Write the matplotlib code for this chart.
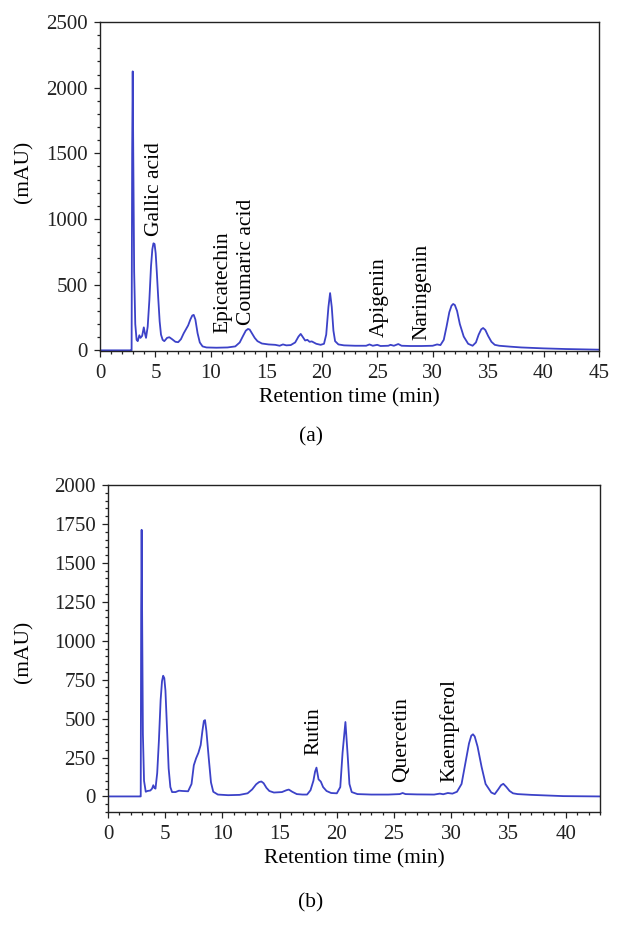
import matplotlib
matplotlib.use("Agg")
import matplotlib.pyplot as plt
from matplotlib.ticker import MultipleLocator

plt.rcParams["font.family"] = ["Liberation Serif", "DejaVu Serif"]

LINE_COLOR = "#3c42c8"

# (a) chromatogram, retention time (min) vs absorbance (mAU)
time_a = [0, 2.80, 2.85, 2.90, 2.95, 3.00, 3.08, 3.18, 3.30, 3.40, 3.55, 3.65, 3.80,
          3.95, 4.05, 4.15, 4.30, 4.45, 4.60, 4.72, 4.82, 4.92, 5.02, 5.12, 5.25,
          5.38, 5.50, 5.65, 5.80, 6.05, 6.25, 6.50, 6.80, 7.05, 7.30, 7.55, 7.75,
          7.95, 8.15, 8.32, 8.45, 8.60, 8.80, 9.00, 9.25, 9.60, 10.5, 11.5, 12.2,
          12.6, 12.9, 13.15, 13.35, 13.5, 13.7, 13.95, 14.2, 14.6, 15.2, 15.8, 16.2,
          16.5, 16.8, 17.2, 17.6, 17.9, 18.1, 18.3, 18.5, 18.7, 18.9, 19.1, 19.5,
          19.9, 20.2, 20.4, 20.6, 20.75, 20.9, 21.05, 21.2, 21.5, 22.0, 23.0, 24.0,
          24.3, 24.6, 25.0, 25.3, 26.0, 26.2, 26.5, 26.9, 27.2, 28.0, 29.0, 30.0,
          30.4, 30.7, 31.0, 31.25, 31.5, 31.7, 31.85, 32.0, 32.2, 32.45, 32.8, 33.2,
          33.6, 33.9, 34.15, 34.38, 34.55, 34.75, 35.0, 35.3, 35.6, 36.0, 37.0, 38.0,
          40.0, 42.0, 45.0]
mau_a = [0, 0, 0, 1500, 2124, 1500, 600, 200, 80, 70, 115, 95, 110,
         175, 130, 95, 180, 380, 640, 770, 815, 810, 740, 600, 400,
         220, 120, 80, 70, 95, 100, 85, 65, 62, 85, 130, 160,
         190, 235, 265, 270, 235, 130, 60, 30, 22, 20, 22, 30,
         60, 110, 150, 163, 158, 130, 95, 70, 52, 45, 42, 35,
         45, 38, 40, 60, 105, 125, 100, 75, 80, 65, 68, 50,
         42, 50, 120, 330, 436, 330, 150, 70, 45, 38, 35, 35,
         45, 35, 42, 33, 35, 42, 35, 48, 35, 33, 33, 35,
         45, 40, 80, 180, 290, 340, 353, 345, 300, 200, 105, 50,
         35, 60, 120, 160, 170, 155, 110, 65, 42, 35, 28, 22,
         15, 10, 5]
names_a = ["Gallic acid", "Epicatechin", "Coumaric acid", "Apigenin", "Naringenin"]
name_x_a = [4.9, 11.1, 13.2, 25.2, 29.0]
name_y_a = [872, 132, 195, 102, 81]

# (b)
time_b = [0, 2.82, 2.86, 2.90, 2.94, 2.98, 3.05, 3.15, 3.30, 3.45, 3.70, 3.85, 3.96,
          4.05, 4.15, 4.30, 4.45, 4.60, 4.72, 4.82, 4.92, 5.02, 5.15, 5.30, 5.45,
          5.60, 5.90, 6.20, 6.50, 7.00, 7.30, 7.50, 7.70, 7.90, 8.10, 8.25, 8.38,
          8.48, 8.60, 8.80, 9.00, 9.20, 9.60, 10.5, 11.5, 12.2, 12.6, 12.95, 13.2,
          13.4, 13.6, 13.85, 14.1, 14.5, 15.2, 15.6, 15.8, 16.1, 16.5, 17.0, 17.4,
          17.7, 17.95, 18.1, 18.22, 18.4, 18.6, 18.8, 19.1, 19.5, 20.0, 20.3, 20.5,
          20.75, 20.95, 21.1, 21.3, 21.8, 23.0, 24.5, 25.5, 25.75, 26.0, 27.0, 28.5,
          29.0, 29.3, 29.7, 30.1, 30.5, 30.9, 31.25, 31.55, 31.75, 31.9, 32.05, 32.3,
          32.65, 33.0, 33.5, 33.8, 34.1, 34.35, 34.55, 34.8, 35.1, 35.4, 35.8, 37.0,
          39.8, 43.0]
mau_b = [0, 0, 0, 1200, 1712, 1200, 400, 100, 30, 35, 38, 50, 72,
         55, 50, 150, 360, 620, 740, 775, 760, 680, 450, 180, 60,
         28, 28, 37, 35, 33, 80, 200, 245, 280, 330, 420, 485,
         490, 420, 250, 90, 30, 12, 8, 10, 20, 45, 78, 92,
         96, 85, 55, 35, 25, 28, 40, 44, 30, 15, 12, 12,
         40, 100, 160, 185, 110, 95, 60, 35, 22, 20, 60, 280,
         478, 260, 80, 28, 15, 12, 12, 15, 22, 15, 13, 12,
         18, 14, 22, 18, 30, 80, 220, 340, 390, 399, 385, 320,
         190, 80, 25, 15, 45, 72, 81, 62, 35, 20, 15, 10,
         2, 0]
names_b = ["Rutin", "Quercetin", "Kaempferol"]
name_x_b = [17.96, 25.7, 29.87]
name_y_b = [264, 92, 92]

FS = 15


def style_axes(ax):
    for sp in ax.spines.values():
        sp.set_linewidth(1.0)
        sp.set_color("#222222")
    ax.tick_params(which="both", direction="out", top=False, right=False,
                   labelsize=FS, colors="#222222", width=0.9)
    ax.tick_params(which="major", length=4, pad=5)
    ax.tick_params(which="minor", length=2.2)


fig = plt.figure(figsize=(6.22, 9.47), dpi=100)

# panel (a)
ax1 = fig.add_axes([100 / 622, 1 - 351 / 947, 499 / 622, 329 / 947])
ax1.plot(time_a, mau_a, color=LINE_COLOR, lw=1.3)
ax1.set_xlim(0, 45)
ax1.set_ylim(-5, 2500)
ax1.xaxis.set_major_locator(MultipleLocator(5))
ax1.xaxis.set_minor_locator(MultipleLocator(1))
ax1.yaxis.set_major_locator(MultipleLocator(500))
ax1.yaxis.set_minor_locator(MultipleLocator(100))
style_axes(ax1)
for n, x, y in zip(names_a, name_x_a, name_y_a):
    ax1.text(x, y, n, rotation=90, ha="center", va="bottom", fontsize=15.5)
ax1.set_xlabel("Retention time (min)", fontsize=15.5, labelpad=4)
ax1.set_ylabel("(mAU)", fontsize=15.5)
ax1.yaxis.set_label_coords(-0.134, 0.544)
fig.text(311 / 622, 1 - 437 / 947, "(a)", ha="center", va="center", fontsize=15.5)

# panel (b)
ax2 = fig.add_axes([108 / 622, 1 - 812 / 947, 492 / 622, 327 / 947])
ax2.plot(time_b, mau_b, color=LINE_COLOR, lw=1.3)
ax2.set_xlim(0, 43)
ax2.set_ylim(-100, 2000)
ax2.xaxis.set_major_locator(MultipleLocator(5))
ax2.xaxis.set_minor_locator(MultipleLocator(1))
ax2.yaxis.set_major_locator(MultipleLocator(250))
ax2.yaxis.set_minor_locator(MultipleLocator(50))
style_axes(ax2)
for n, x, y in zip(names_b, name_x_b, name_y_b):
    ax2.text(x, y, n, rotation=90, ha="center", va="bottom", fontsize=15.5)
ax2.set_xlabel("Retention time (min)", fontsize=15.5, labelpad=4)
ax2.set_ylabel("(mAU)", fontsize=15.5)
ax2.yaxis.set_label_coords(-0.152, 0.49)
fig.text(311 / 622, 1 - 903 / 947, "(b)", ha="center", va="center", fontsize=15.5)

fig.savefig("out.png", dpi=100)
